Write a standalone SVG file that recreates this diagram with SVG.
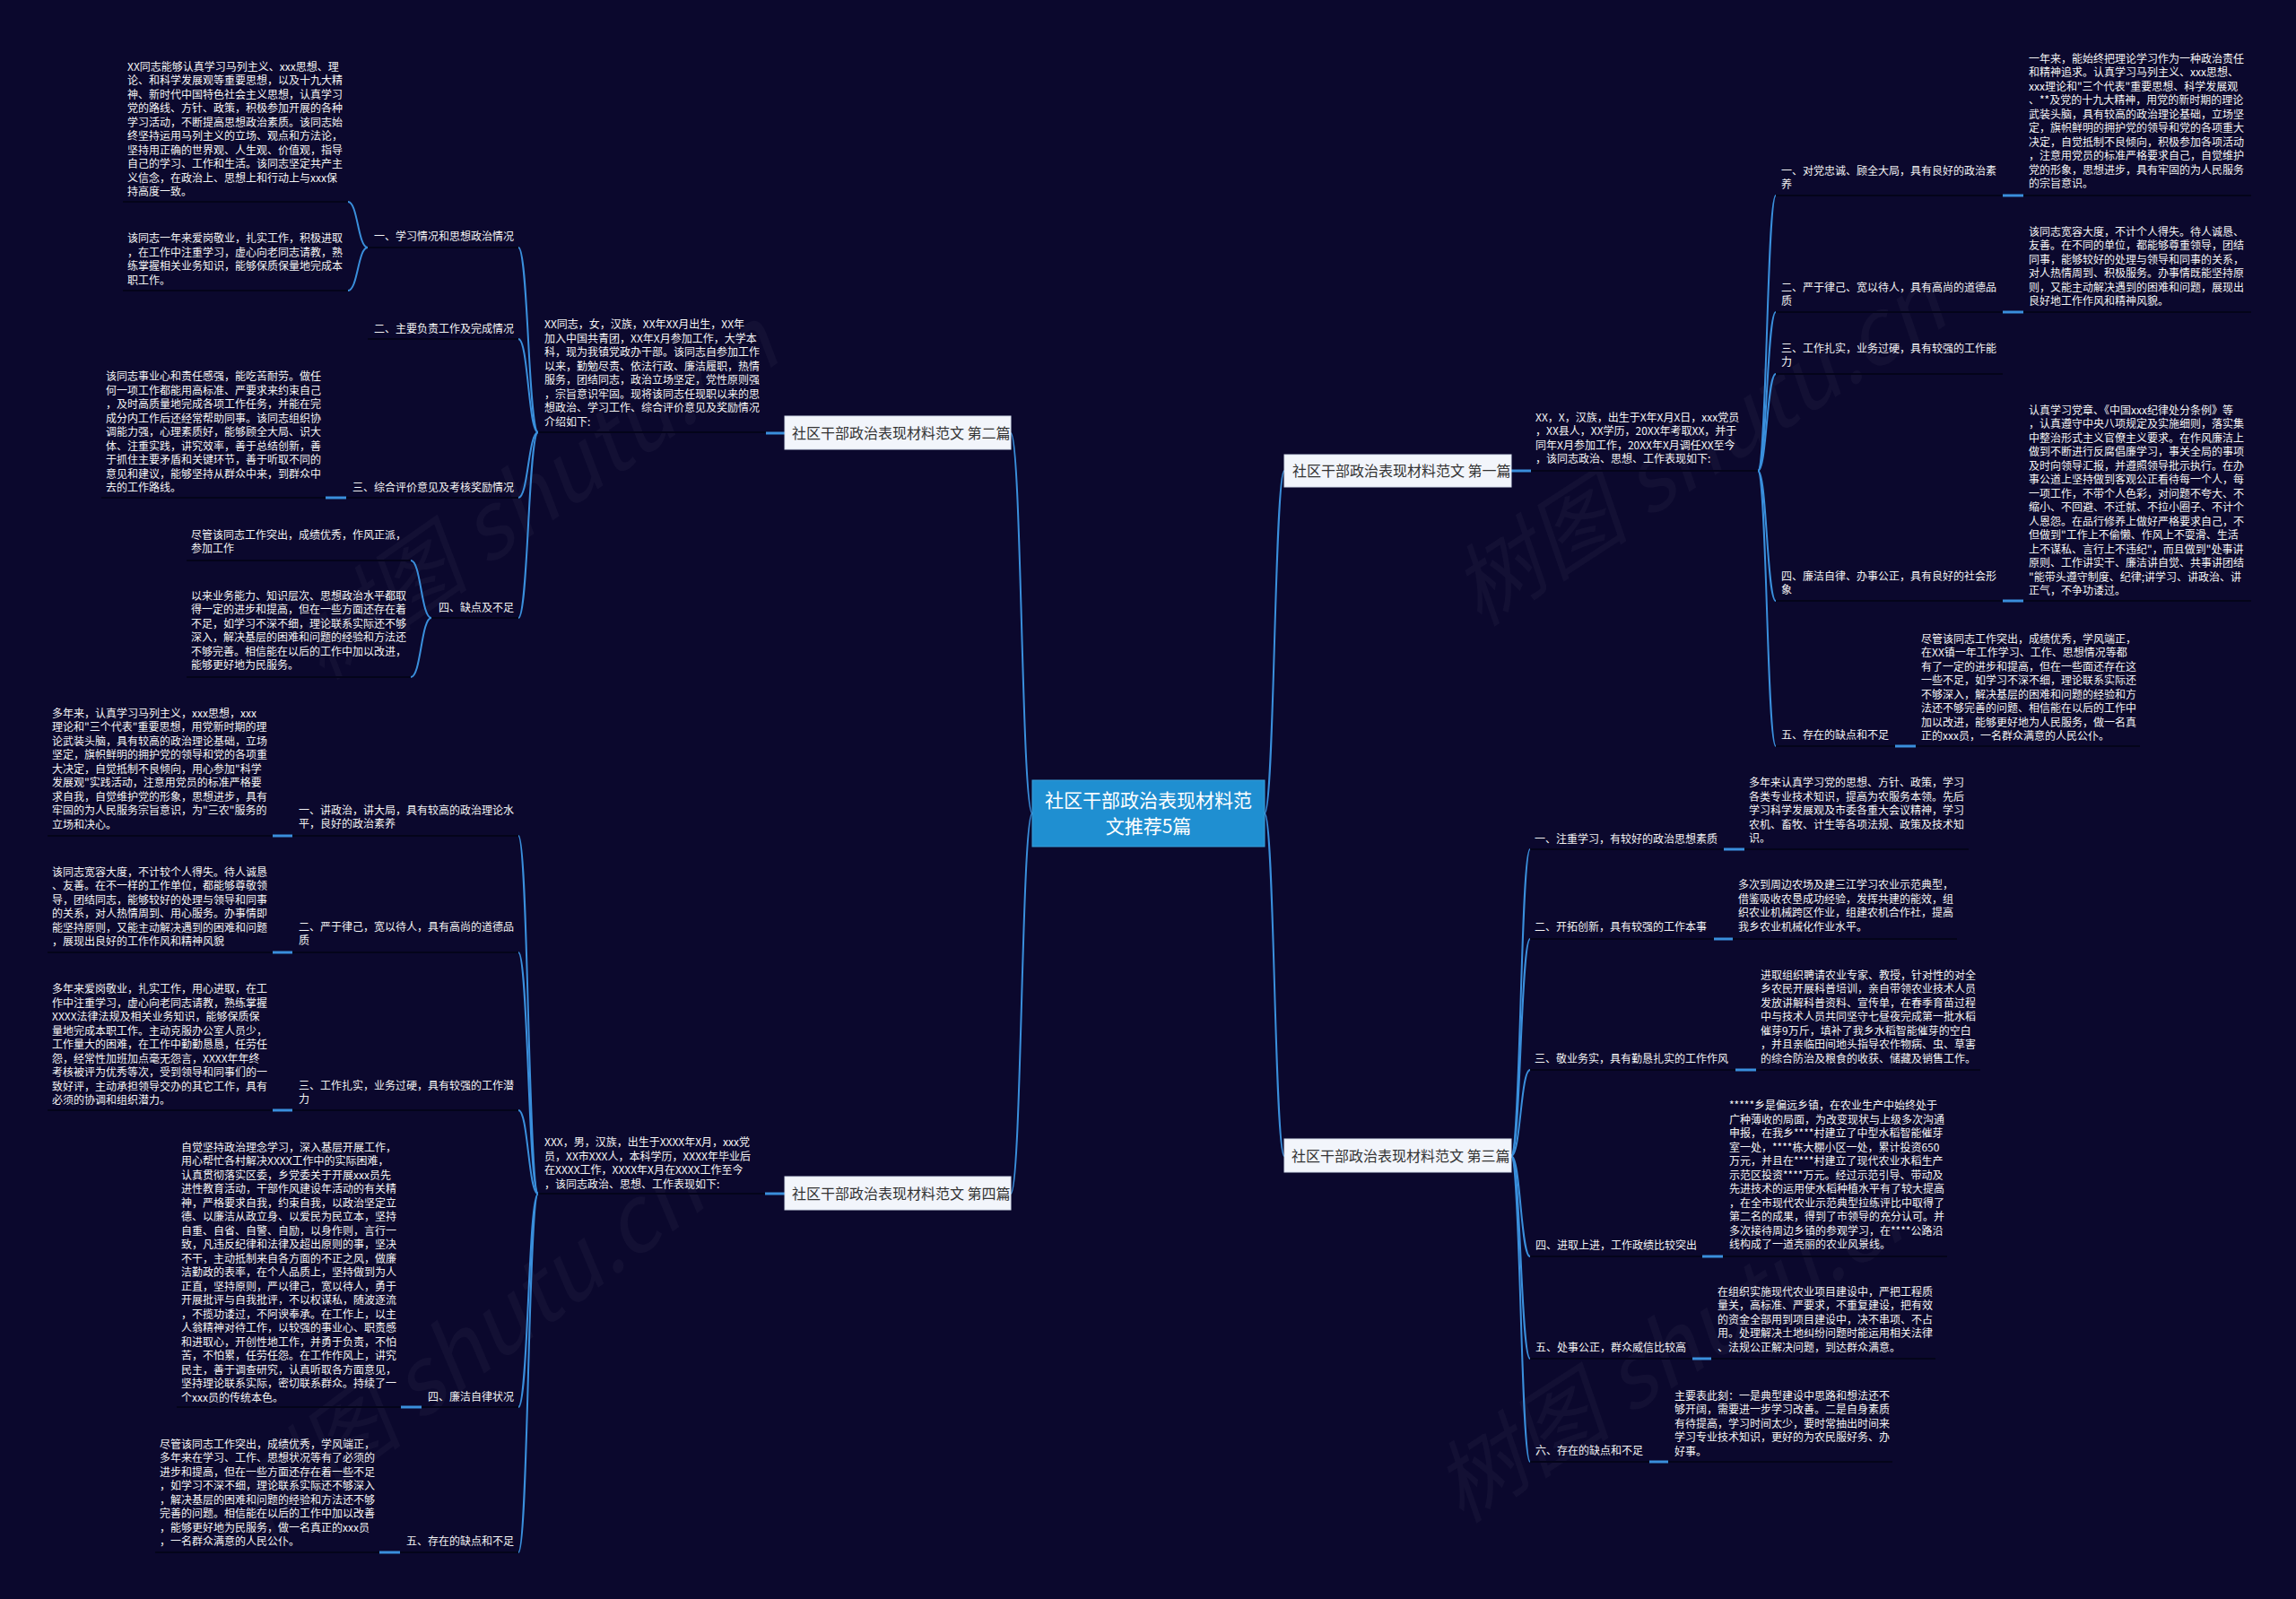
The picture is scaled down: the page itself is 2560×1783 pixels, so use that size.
<svg xmlns="http://www.w3.org/2000/svg" width="2560" height="1783" viewBox="0 0 2560 1783">
<style>
text{font-family:"Noto Sans CJK SC","Noto Sans",sans-serif}
.t{font-size:12px;fill:#f4f4f4}
.bt{font-size:16px;fill:#333}
.ct{font-size:21px;fill:#fff}
.box{fill:#f2f5fb;stroke:#d6deec;stroke-width:1}
.c{fill:none;stroke:#3a8fdc;stroke-width:2}
.s{fill:none;stroke:#3a8fdc;stroke-width:3}
.u{stroke:#04041a;stroke-width:2}
.wm{font-size:100px;fill:#ffffff;fill-opacity:0.035;font-style:italic}
</style>
<rect x="0" y="0" width="2560" height="1783" fill="#0b082d"/>
<g id="watermarks">
<text class="wm" transform="translate(360 760) rotate(-35)">树图 shutu.cn</text>
<text class="wm" transform="translate(1650 700) rotate(-33)">树图 shutu.cn</text>
<text class="wm" transform="translate(290 1720) rotate(-37)">树图 shutu.cn</text>
<text class="wm" transform="translate(1630 1700) rotate(-33)">树图 shutu.cn</text>
</g>
<g id="connectors">
<path class="c" d="M1151 907C1139 907 1139 483 1127 483"/>
<path class="c" d="M1151 907C1139 907 1139 1331 1127 1331"/>
<path class="c" d="M1410 907C1421 907 1421 525 1432 525"/>
<path class="c" d="M1410 907C1421 907 1421 1289 1432 1289"/>
<!-- 第二篇 -->
<path class="s" d="M875 483H854"/>
<path class="c" d="M600 482C589 482 589 276 578 276"/>
<path class="c" d="M600 482C589 482 589 378 578 378"/>
<path class="c" d="M600 482C589 482 589 555 578 555"/>
<path class="c" d="M600 482C589 482 589 689 578 689"/>
<path class="c" d="M410 276C399 276 399 225 388 225"/>
<path class="c" d="M410 276C399 276 399 324 388 324"/>
<path class="s" d="M386 555H363"/>
<path class="c" d="M481 689C469.5 689 469.5 625 458 625"/>
<path class="c" d="M481 689C469.5 689 469.5 755 458 755"/>
<!-- 第四篇 -->
<path class="s" d="M875 1331H853"/>
<path class="c" d="M600 1331C589 1331 589 932 578 932"/>
<path class="c" d="M600 1331C589 1331 589 1062 578 1062"/>
<path class="c" d="M600 1331C589 1331 589 1238 578 1238"/>
<path class="c" d="M600 1331C589 1331 589 1569 578 1569"/>
<path class="c" d="M600 1331C589 1331 589 1731 578 1731"/>
<path class="s" d="M326 932H304"/>
<path class="s" d="M326 1062H304"/>
<path class="s" d="M326 1238H304"/>
<path class="s" d="M470 1569H447"/>
<path class="s" d="M446 1731H423"/>
<!-- 第一篇 -->
<path class="s" d="M1685 525H1707"/>
<path class="c" d="M1960 525C1970 525 1970 218 1980 218"/>
<path class="c" d="M1960 525C1970 525 1970 348 1980 348"/>
<path class="c" d="M1960 525C1970 525 1970 417 1980 417"/>
<path class="c" d="M1960 525C1970 525 1970 670 1980 670"/>
<path class="c" d="M1960 525C1970 525 1970 832 1980 832"/>
<path class="s" d="M2233 218H2256"/>
<path class="s" d="M2233 348H2256"/>
<path class="s" d="M2233 670H2256"/>
<path class="s" d="M2113 832H2136"/>
<!-- 第三篇 -->
<path class="c" d="M1685 1289C1695.5 1289 1695.5 947 1706 947"/>
<path class="c" d="M1685 1289C1695.5 1289 1695.5 1047 1706 1047"/>
<path class="c" d="M1685 1289C1695.5 1289 1695.5 1193 1706 1193"/>
<path class="c" d="M1685 1289C1695.5 1289 1695.5 1401 1706 1401"/>
<path class="c" d="M1685 1289C1695.5 1289 1695.5 1515 1706 1515"/>
<path class="c" d="M1685 1289C1695.5 1289 1695.5 1630 1706 1630"/>
<path class="s" d="M1922 947H1945"/>
<path class="s" d="M1911 1047H1932"/>
<path class="s" d="M1935 1193H1958"/>
<path class="s" d="M1898 1401H1921"/>
<path class="s" d="M1887 1515H1908"/>
<path class="s" d="M1839 1630H1860"/>
</g>
<g id="center">
<rect x="1151" y="870" width="259" height="74" fill="#1f8fd1" stroke="#3aa0dc" stroke-width="1"/>
<text class="ct" x="1280.5" y="900" text-anchor="middle">社区干部政治表现材料范</text>
<text class="ct" x="1280.5" y="929" text-anchor="middle">文推荐5篇</text>
</g>
<g id="b2">
<rect class="box" x="875" y="464" width="252" height="37"/>
<text class="bt" x="883" y="489">社区干部政治表现材料范文 第二篇</text>
</g>
<g id="b2-intro">
<line class="u" x1="600" y1="482" x2="854" y2="482"/>
<text class="t" x="607" y="366"><tspan x="607">XX同志，女，汉族，XX年XX月出生，XX年</tspan><tspan x="607" dy="15.5">加入中国共青团，XX年X月参加工作，大学本</tspan><tspan x="607" dy="15.5">科，现为我镇党政办干部。该同志自参加工作</tspan><tspan x="607" dy="15.5">以来，勤勉尽责、依法行政、廉洁履职，热情</tspan><tspan x="607" dy="15.5">服务，团结同志，政治立场坚定，党性原则强</tspan><tspan x="607" dy="15.5">，宗旨意识牢固。现将该同志任现职以来的思</tspan><tspan x="607" dy="15.5">想政治、学习工作、综合评价意见及奖励情况</tspan><tspan x="607" dy="15.5">介绍如下:</tspan></text>
</g>
<g id="b2-i1">
<line class="u" x1="410" y1="276" x2="578" y2="276"/>
<text class="t" x="573" y="268" text-anchor="end">一、学习情况和思想政治情况</text>
</g>
<g id="b2-i1a">
<line class="u" x1="137" y1="225" x2="388" y2="225"/>
<text class="t" x="142" y="78.5"><tspan x="142">XX同志能够认真学习马列主义、xxx思想、理</tspan><tspan x="142" dy="15.5">论、和科学发展观等重要思想，以及十九大精</tspan><tspan x="142" dy="15.5">神、新时代中国特色社会主义思想，认真学习</tspan><tspan x="142" dy="15.5">党的路线、方针、政策，积极参加开展的各种</tspan><tspan x="142" dy="15.5">学习活动，不断提高思想政治素质。该同志始</tspan><tspan x="142" dy="15.5">终坚持运用马列主义的立场、观点和方法论，</tspan><tspan x="142" dy="15.5">坚持用正确的世界观、人生观、价值观，指导</tspan><tspan x="142" dy="15.5">自己的学习、工作和生活。该同志坚定共产主</tspan><tspan x="142" dy="15.5">义信念，在政治上、思想上和行动上与xxx保</tspan><tspan x="142" dy="15.5">持高度一致。</tspan></text>
</g>
<g id="b2-i1b">
<line class="u" x1="137" y1="324" x2="388" y2="324"/>
<text class="t" x="142" y="270"><tspan x="142">该同志一年来爱岗敬业，扎实工作，积极进取</tspan><tspan x="142" dy="15.5">，在工作中注重学习，虚心向老同志请教，熟</tspan><tspan x="142" dy="15.5">练掌握相关业务知识，能够保质保量地完成本</tspan><tspan x="142" dy="15.5">职工作。</tspan></text>
</g>
<g id="b2-i2">
<line class="u" x1="410" y1="378" x2="578" y2="378"/>
<text class="t" x="573" y="371" text-anchor="end">二、主要负责工作及完成情况</text>
</g>
<g id="b2-i3">
<line class="u" x1="386" y1="555" x2="578" y2="555"/>
<text class="t" x="573" y="548" text-anchor="end">三、综合评价意见及考核奖励情况</text>
</g>
<g id="b2-i3a">
<line class="u" x1="113" y1="555" x2="363" y2="555"/>
<text class="t" x="118" y="424"><tspan x="118">该同志事业心和责任感强，能吃苦耐劳。做任</tspan><tspan x="118" dy="15.5">何一项工作都能用高标准、严要求来约束自己</tspan><tspan x="118" dy="15.5">，及时高质量地完成各项工作任务，并能在完</tspan><tspan x="118" dy="15.5">成分内工作后还经常帮助同事。该同志组织协</tspan><tspan x="118" dy="15.5">调能力强，心理素质好，能够顾全大局、识大</tspan><tspan x="118" dy="15.5">体、注重实践，讲究效率，善于总结创新，善</tspan><tspan x="118" dy="15.5">于抓住主要矛盾和关键环节，善于听取不同的</tspan><tspan x="118" dy="15.5">意见和建议，能够坚持从群众中来，到群众中</tspan><tspan x="118" dy="15.5">去的工作路线。</tspan></text>
</g>
<g id="b2-i4">
<line class="u" x1="481" y1="689" x2="578" y2="689"/>
<text class="t" x="573" y="682" text-anchor="end">四、缺点及不足</text>
</g>
<g id="b2-i4a">
<line class="u" x1="208" y1="625" x2="458" y2="625"/>
<text class="t" x="213" y="600.5"><tspan x="213">尽管该同志工作突出，成绩优秀，作风正派，</tspan><tspan x="213" dy="15.5">参加工作</tspan></text>
</g>
<g id="b2-i4b">
<line class="u" x1="208" y1="755" x2="458" y2="755"/>
<text class="t" x="213" y="668.5"><tspan x="213">以来业务能力、知识层次、思想政治水平都取</tspan><tspan x="213" dy="15.5">得一定的进步和提高，但在一些方面还存在着</tspan><tspan x="213" dy="15.5">不足，如学习不深不细，理论联系实际还不够</tspan><tspan x="213" dy="15.5">深入，解决基层的困难和问题的经验和方法还</tspan><tspan x="213" dy="15.5">不够完善。相信能在以后的工作中加以改进，</tspan><tspan x="213" dy="15.5">能够更好地为民服务。</tspan></text>
</g>
<g id="b4">
<rect class="box" x="875" y="1312" width="252" height="37"/>
<text class="bt" x="883" y="1337">社区干部政治表现材料范文 第四篇</text>
</g>
<g id="b4-intro">
<line class="u" x1="600" y1="1331" x2="853" y2="1331"/>
<text class="t" x="607" y="1278"><tspan x="607">XXX，男，汉族，出生于XXXX年X月，xxx党</tspan><tspan x="607" dy="15.5">员，XX市XXX人，本科学历，XXXX年毕业后</tspan><tspan x="607" dy="15.5">在XXXX工作，XXXX年X月在XXXX工作至今</tspan><tspan x="607" dy="15.5">，该同志政治、思想、工作表现如下:</tspan></text>
</g>
<g id="b4-i1">
<line class="u" x1="326" y1="932" x2="578" y2="932"/>
<text class="t" x="333" y="907.5"><tspan x="333">一、讲政治，讲大局，具有较高的政治理论水</tspan><tspan x="333" dy="15.5">平，良好的政治素养</tspan></text>
</g>
<g id="b4-i1a">
<line class="u" x1="53" y1="932" x2="304" y2="932"/>
<text class="t" x="58" y="799.5"><tspan x="58">多年来，认真学习马列主义，xxx思想，xxx</tspan><tspan x="58" dy="15.5">理论和"三个代表"重要思想，用党新时期的理</tspan><tspan x="58" dy="15.5">论武装头脑，具有较高的政治理论基础，立场</tspan><tspan x="58" dy="15.5">坚定，旗帜鲜明的拥护党的领导和党的各项重</tspan><tspan x="58" dy="15.5">大决定，自觉抵制不良倾向，用心参加"科学</tspan><tspan x="58" dy="15.5">发展观"实践活动，注意用党员的标准严格要</tspan><tspan x="58" dy="15.5">求自我，自觉维护党的形象，思想进步，具有</tspan><tspan x="58" dy="15.5">牢固的为人民服务宗旨意识，为"三农"服务的</tspan><tspan x="58" dy="15.5">立场和决心。</tspan></text>
</g>
<g id="b4-i2">
<line class="u" x1="326" y1="1062" x2="578" y2="1062"/>
<text class="t" x="333" y="1037.5"><tspan x="333">二、严于律己，宽以待人，具有高尚的道德品</tspan><tspan x="333" dy="15.5">质</tspan></text>
</g>
<g id="b4-i2a">
<line class="u" x1="53" y1="1062" x2="304" y2="1062"/>
<text class="t" x="58" y="976.5"><tspan x="58">该同志宽容大度，不计较个人得失。待人诚恳</tspan><tspan x="58" dy="15.5">、友善。在不一样的工作单位，都能够尊敬领</tspan><tspan x="58" dy="15.5">导，团结同志，能够较好的处理与领导和同事</tspan><tspan x="58" dy="15.5">的关系，对人热情周到、用心服务。办事情即</tspan><tspan x="58" dy="15.5">能坚持原则，又能主动解决遇到的困难和问题</tspan><tspan x="58" dy="15.5">，展现出良好的工作作风和精神风貌</tspan></text>
</g>
<g id="b4-i3">
<line class="u" x1="326" y1="1238" x2="578" y2="1238"/>
<text class="t" x="333" y="1214.5"><tspan x="333">三、工作扎实，业务过硬，具有较强的工作潜</tspan><tspan x="333" dy="15.5">力</tspan></text>
</g>
<g id="b4-i3a">
<line class="u" x1="53" y1="1238" x2="304" y2="1238"/>
<text class="t" x="58" y="1107"><tspan x="58">多年来爱岗敬业，扎实工作，用心进取，在工</tspan><tspan x="58" dy="15.5">作中注重学习，虚心向老同志请教，熟练掌握</tspan><tspan x="58" dy="15.5">XXXX法律法规及相关业务知识，能够保质保</tspan><tspan x="58" dy="15.5">量地完成本职工作。主动克服办公室人员少，</tspan><tspan x="58" dy="15.5">工作量大的困难，在工作中勤勤恳恳，任劳任</tspan><tspan x="58" dy="15.5">怨，经常性加班加点毫无怨言，XXXX年年终</tspan><tspan x="58" dy="15.5">考核被评为优秀等次，受到领导和同事们的一</tspan><tspan x="58" dy="15.5">致好评，主动承担领导交办的其它工作，具有</tspan><tspan x="58" dy="15.5">必须的协调和组织潜力。</tspan></text>
</g>
<g id="b4-i4">
<line class="u" x1="470" y1="1569" x2="578" y2="1569"/>
<text class="t" x="573" y="1561.5" text-anchor="end">四、廉洁自律状况</text>
</g>
<g id="b4-i4a">
<line class="u" x1="197" y1="1569" x2="447" y2="1569"/>
<text class="t" x="202" y="1283.5"><tspan x="202">自觉坚持政治理念学习，深入基层开展工作，</tspan><tspan x="202" dy="15.5">用心帮忙各村解决XXXX工作中的实际困难，</tspan><tspan x="202" dy="15.5">认真贯彻落实区委，乡党委关于开展xxx员先</tspan><tspan x="202" dy="15.5">进性教育活动，干部作风建设年活动的有关精</tspan><tspan x="202" dy="15.5">神，严格要求自我，约束自我，以政治坚定立</tspan><tspan x="202" dy="15.5">德、以廉洁从政立身、以爱民为民立本，坚持</tspan><tspan x="202" dy="15.5">自重、自省、自警、自励，以身作则，言行一</tspan><tspan x="202" dy="15.5">致，凡违反纪律和法律及超出原则的事，坚决</tspan><tspan x="202" dy="15.5">不干，主动抵制来自各方面的不正之风，做廉</tspan><tspan x="202" dy="15.5">洁勤政的表率，在个人品质上，坚持做到为人</tspan><tspan x="202" dy="15.5">正直，坚持原则，严以律己，宽以待人，勇于</tspan><tspan x="202" dy="15.5">开展批评与自我批评，不以权谋私，随波逐流</tspan><tspan x="202" dy="15.5">，不揽功诿过，不阿谀奉承。在工作上，以主</tspan><tspan x="202" dy="15.5">人翁精神对待工作，以较强的事业心、职责感</tspan><tspan x="202" dy="15.5">和进取心，开创性地工作，并勇于负责，不怕</tspan><tspan x="202" dy="15.5">苦，不怕累，任劳任怨。在工作作风上，讲究</tspan><tspan x="202" dy="15.5">民主，善于调查研究，认真听取各方面意见，</tspan><tspan x="202" dy="15.5">坚持理论联系实际，密切联系群众。持续了一</tspan><tspan x="202" dy="15.5">个xxx员的传统本色。</tspan></text>
</g>
<g id="b4-i5">
<line class="u" x1="446" y1="1731" x2="578" y2="1731"/>
<text class="t" x="573" y="1722.5" text-anchor="end">五、存在的缺点和不足</text>
</g>
<g id="b4-i5a">
<line class="u" x1="173" y1="1731" x2="423" y2="1731"/>
<text class="t" x="178" y="1614.5"><tspan x="178">尽管该同志工作突出，成绩优秀，学风端正，</tspan><tspan x="178" dy="15.5">多年来在学习、工作、思想状况等有了必须的</tspan><tspan x="178" dy="15.5">进步和提高，但在一些方面还存在着一些不足</tspan><tspan x="178" dy="15.5">，如学习不深不细，理论联系实际还不够深入</tspan><tspan x="178" dy="15.5">，解决基层的困难和问题的经验和方法还不够</tspan><tspan x="178" dy="15.5">完善的问题。相信能在以后的工作中加以改善</tspan><tspan x="178" dy="15.5">，能够更好地为民服务，做一名真正的xxx员</tspan><tspan x="178" dy="15.5">，一名群众满意的人民公仆。</tspan></text>
</g>
<g id="b1">
<rect class="box" x="1432" y="507" width="253" height="36"/>
<text class="bt" x="1441" y="531">社区干部政治表现材料范文 第一篇</text>
</g>
<g id="b1-intro">
<line class="u" x1="1707" y1="525" x2="1960" y2="525"/>
<text class="t" x="1712" y="469.5"><tspan x="1712">XX，X，汉族，出生于X年X月X日，xxx党员</tspan><tspan x="1712" dy="15.5">，XX县人，XX学历，20XX年考取XX，并于</tspan><tspan x="1712" dy="15.5">同年X月参加工作，20XX年X月调任XX至今</tspan><tspan x="1712" dy="15.5">，该同志政治、思想、工作表现如下:</tspan></text>
</g>
<g id="b1-i1">
<line class="u" x1="1980" y1="218" x2="2233" y2="218"/>
<text class="t" x="1986" y="194.5"><tspan x="1986">一、对党忠诚、顾全大局，具有良好的政治素</tspan><tspan x="1986" dy="15.5">养</tspan></text>
</g>
<g id="b1-i1a">
<line class="u" x1="2256" y1="218" x2="2510" y2="218"/>
<text class="t" x="2262" y="69.5"><tspan x="2262">一年来，能始终把理论学习作为一种政治责任</tspan><tspan x="2262" dy="15.5">和精神追求。认真学习马列主义、xxx思想、</tspan><tspan x="2262" dy="15.5">xxx理论和"三个代表"重要思想、科学发展观</tspan><tspan x="2262" dy="15.5">、**及党的十九大精神，用党的新时期的理论</tspan><tspan x="2262" dy="15.5">武装头脑，具有较高的政治理论基础，立场坚</tspan><tspan x="2262" dy="15.5">定，旗帜鲜明的拥护党的领导和党的各项重大</tspan><tspan x="2262" dy="15.5">决定，自觉抵制不良倾向，积极参加各项活动</tspan><tspan x="2262" dy="15.5">，注意用党员的标准严格要求自己，自觉维护</tspan><tspan x="2262" dy="15.5">党的形象，思想进步，具有牢固的为人民服务</tspan><tspan x="2262" dy="15.5">的宗旨意识。</tspan></text>
</g>
<g id="b1-i2">
<line class="u" x1="1980" y1="348" x2="2233" y2="348"/>
<text class="t" x="1986" y="324.5"><tspan x="1986">二、严于律己、宽以待人，具有高尚的道德品</tspan><tspan x="1986" dy="15.5">质</tspan></text>
</g>
<g id="b1-i2a">
<line class="u" x1="2256" y1="348" x2="2510" y2="348"/>
<text class="t" x="2262" y="262.5"><tspan x="2262">该同志宽容大度，不计个人得失。待人诚恳、</tspan><tspan x="2262" dy="15.5">友善。在不同的单位，都能够尊重领导，团结</tspan><tspan x="2262" dy="15.5">同事，能够较好的处理与领导和同事的关系，</tspan><tspan x="2262" dy="15.5">对人热情周到、积极服务。办事情既能坚持原</tspan><tspan x="2262" dy="15.5">则，又能主动解决遇到的困难和问题，展现出</tspan><tspan x="2262" dy="15.5">良好地工作作风和精神风貌。</tspan></text>
</g>
<g id="b1-i3">
<line class="u" x1="1980" y1="417" x2="2233" y2="417"/>
<text class="t" x="1986" y="392.5"><tspan x="1986">三、工作扎实，业务过硬，具有较强的工作能</tspan><tspan x="1986" dy="15.5">力</tspan></text>
</g>
<g id="b1-i4">
<line class="u" x1="1980" y1="670" x2="2233" y2="670"/>
<text class="t" x="1986" y="646.5"><tspan x="1986">四、廉洁自律、办事公正，具有良好的社会形</tspan><tspan x="1986" dy="15.5">象</tspan></text>
</g>
<g id="b1-i4a">
<line class="u" x1="2256" y1="670" x2="2510" y2="670"/>
<text class="t" x="2262" y="461.5"><tspan x="2262">认真学习党章、《中国xxx纪律处分条例》等</tspan><tspan x="2262" dy="15.5">，认真遵守中央八项规定及实施细则，落实集</tspan><tspan x="2262" dy="15.5">中整治形式主义官僚主义要求。在作风廉洁上</tspan><tspan x="2262" dy="15.5">做到不断进行反腐倡廉学习，事关全局的事项</tspan><tspan x="2262" dy="15.5">及时向领导汇报，并遵照领导批示执行。在办</tspan><tspan x="2262" dy="15.5">事公道上坚持做到客观公正看待每一个人，每</tspan><tspan x="2262" dy="15.5">一项工作，不带个人色彩，对问题不夸大、不</tspan><tspan x="2262" dy="15.5">缩小、不回避、不迁就、不拉小圈子、不计个</tspan><tspan x="2262" dy="15.5">人恩怨。在品行修养上做好严格要求自己，不</tspan><tspan x="2262" dy="15.5">但做到"工作上不偷懒、作风上不耍滑、生活</tspan><tspan x="2262" dy="15.5">上不谋私、言行上不违纪"，而且做到"处事讲</tspan><tspan x="2262" dy="15.5">原则、工作讲实干、廉洁讲自觉、共事讲团结</tspan><tspan x="2262" dy="15.5">"能带头遵守制度、纪律;讲学习、讲政治、讲</tspan><tspan x="2262" dy="15.5">正气，不争功诿过。</tspan></text>
</g>
<g id="b1-i5">
<line class="u" x1="1980" y1="832" x2="2113" y2="832"/>
<text class="t" x="1986" y="823.5">五、存在的缺点和不足</text>
</g>
<g id="b1-i5a">
<line class="u" x1="2136" y1="832" x2="2386" y2="832"/>
<text class="t" x="2142" y="716.5"><tspan x="2142">尽管该同志工作突出，成绩优秀，学风端正，</tspan><tspan x="2142" dy="15.5">在XX镇一年工作学习、工作、思想情况等都</tspan><tspan x="2142" dy="15.5">有了一定的进步和提高，但在一些面还存在这</tspan><tspan x="2142" dy="15.5">一些不足，如学习不深不细，理论联系实际还</tspan><tspan x="2142" dy="15.5">不够深入，解决基层的困难和问题的经验和方</tspan><tspan x="2142" dy="15.5">法还不够完善的问题、相信能在以后的工作中</tspan><tspan x="2142" dy="15.5">加以改进，能够更好地为人民服务，做一名真</tspan><tspan x="2142" dy="15.5">正的xxx员，一名群众满意的人民公仆。</tspan></text>
</g>
<g id="b3">
<rect class="box" x="1432" y="1270" width="253" height="37"/>
<text class="bt" x="1440" y="1295">社区干部政治表现材料范文 第三篇</text>
</g>
<g id="b3-i1">
<line class="u" x1="1706" y1="947" x2="1922" y2="947"/>
<text class="t" x="1711" y="939.5">一、注重学习，有较好的政治思想素质</text>
</g>
<g id="b3-i1a">
<line class="u" x1="1945" y1="947" x2="2195" y2="947"/>
<text class="t" x="1950" y="877"><tspan x="1950">多年来认真学习党的思想、方针、政策，学习</tspan><tspan x="1950" dy="15.5">各类专业技术知识，提高为农服务本领。先后</tspan><tspan x="1950" dy="15.5">学习科学发展观及市委各重大会议精神，学习</tspan><tspan x="1950" dy="15.5">农机、畜牧、计生等各项法规、政策及技术知</tspan><tspan x="1950" dy="15.5">识。</tspan></text>
</g>
<g id="b3-i2">
<line class="u" x1="1706" y1="1047" x2="1911" y2="1047"/>
<text class="t" x="1711" y="1037.5">二、开拓创新，具有较强的工作本事</text>
</g>
<g id="b3-i2a">
<line class="u" x1="1932" y1="1047" x2="2182" y2="1047"/>
<text class="t" x="1938" y="991"><tspan x="1938">多次到周边农场及建三江学习农业示范典型，</tspan><tspan x="1938" dy="15.5">借鉴吸收农垦成功经验，发挥共建的能效，组</tspan><tspan x="1938" dy="15.5">织农业机械跨区作业，组建农机合作社，提高</tspan><tspan x="1938" dy="15.5">我乡农业机械化作业水平。</tspan></text>
</g>
<g id="b3-i3">
<line class="u" x1="1706" y1="1193" x2="1935" y2="1193"/>
<text class="t" x="1711" y="1184.5">三、敬业务实，具有勤恳扎实的工作作风</text>
</g>
<g id="b3-i3a">
<line class="u" x1="1958" y1="1193" x2="2208" y2="1193"/>
<text class="t" x="1963" y="1091.5"><tspan x="1963">进取组织聘请农业专家、教授，针对性的对全</tspan><tspan x="1963" dy="15.5">乡农民开展科普培训，亲自带领农业技术人员</tspan><tspan x="1963" dy="15.5">发放讲解科普资料、宣传单，在春季育苗过程</tspan><tspan x="1963" dy="15.5">中与技术人员共同坚守七昼夜完成第一批水稻</tspan><tspan x="1963" dy="15.5">催芽9万斤，填补了我乡水稻智能催芽的空白</tspan><tspan x="1963" dy="15.5">，并且亲临田间地头指导农作物病、虫、草害</tspan><tspan x="1963" dy="15.5">的综合防治及粮食的收获、储藏及销售工作。</tspan></text>
</g>
<g id="b3-i4">
<line class="u" x1="1706" y1="1401" x2="1898" y2="1401"/>
<text class="t" x="1712" y="1392.5">四、进取上进，工作政绩比较突出</text>
</g>
<g id="b3-i4a">
<line class="u" x1="1921" y1="1401" x2="2171" y2="1401"/>
<text class="t" x="1928" y="1237"><tspan x="1928">*****乡是偏远乡镇，在农业生产中始终处于</tspan><tspan x="1928" dy="15.5">广种薄收的局面，为改变现状与上级多次沟通</tspan><tspan x="1928" dy="15.5">申报，在我乡****村建立了中型水稻智能催芽</tspan><tspan x="1928" dy="15.5">室一处，****栋大棚小区一处，累计投资650</tspan><tspan x="1928" dy="15.5">万元，并且在****村建立了现代农业水稻生产</tspan><tspan x="1928" dy="15.5">示范区投资****万元。经过示范引导、带动及</tspan><tspan x="1928" dy="15.5">先进技术的运用使水稻种植水平有了较大提高</tspan><tspan x="1928" dy="15.5">，在全市现代农业示范典型拉练评比中取得了</tspan><tspan x="1928" dy="15.5">第二名的成果，得到了市领导的充分认可。并</tspan><tspan x="1928" dy="15.5">多次接待周边乡镇的参观学习，在****公路沿</tspan><tspan x="1928" dy="15.5">线构成了一道亮丽的农业风景线。</tspan></text>
</g>
<g id="b3-i5">
<line class="u" x1="1706" y1="1515" x2="1887" y2="1515"/>
<text class="t" x="1712" y="1507">五、处事公正，群众威信比较高</text>
</g>
<g id="b3-i5a">
<line class="u" x1="1908" y1="1515" x2="2158" y2="1515"/>
<text class="t" x="1915" y="1444.5"><tspan x="1915">在组织实施现代农业项目建设中，严把工程质</tspan><tspan x="1915" dy="15.5">量关，高标准、严要求，不重复建设，把有效</tspan><tspan x="1915" dy="15.5">的资金全部用到项目建设中，决不串项、不占</tspan><tspan x="1915" dy="15.5">用。处理解决土地纠纷问题时能运用相关法律</tspan><tspan x="1915" dy="15.5">、法规公正解决问题，到达群众满意。</tspan></text>
</g>
<g id="b3-i6">
<line class="u" x1="1706" y1="1630" x2="1839" y2="1630"/>
<text class="t" x="1712" y="1621.5">六、存在的缺点和不足</text>
</g>
<g id="b3-i6a">
<line class="u" x1="1860" y1="1630" x2="2110" y2="1630"/>
<text class="t" x="1867" y="1560.5"><tspan x="1867">主要表此刻：一是典型建设中思路和想法还不</tspan><tspan x="1867" dy="15.5">够开阔，需要进一步学习改善。二是自身素质</tspan><tspan x="1867" dy="15.5">有待提高，学习时间太少，要时常抽出时间来</tspan><tspan x="1867" dy="15.5">学习专业技术知识，更好的为农民服好务、办</tspan><tspan x="1867" dy="15.5">好事。</tspan></text>
</g>
</svg>
